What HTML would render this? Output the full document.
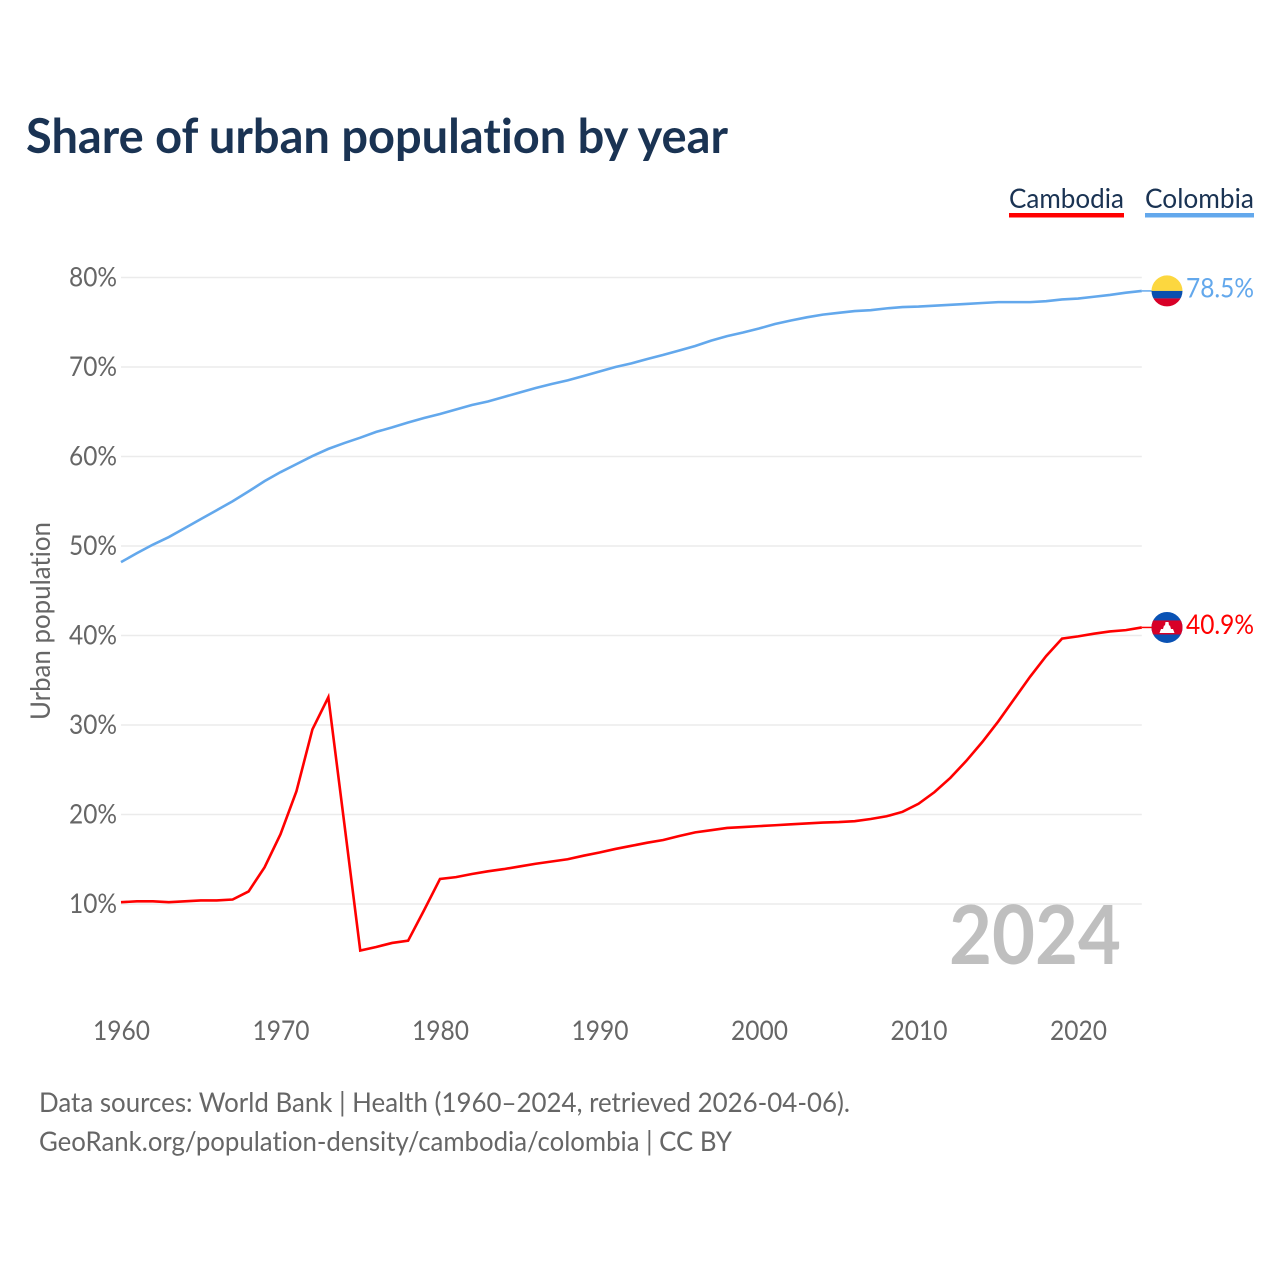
<!DOCTYPE html>
<html lang="en">
<head>
<meta charset="utf-8">
<title>Share of urban population by year</title>
<style>
html,body{margin:0;padding:0;background:#fff;}
svg{display:block;}
text{font-family:"Lato","Carlito","Liberation Sans",sans-serif;font-variant-ligatures:none;font-feature-settings:"liga" 0,"clig" 0;}
</style>
</head>
<body>
<svg id="chart" xmlns="http://www.w3.org/2000/svg" width="1280" height="1280" viewBox="0 0 1280 1280">
  <rect x="0" y="0" width="1280" height="1280" fill="#ffffff"/>
  <text x="26" y="153" font-size="47.5" font-weight="700" fill="#1a3353" textLength="702" lengthAdjust="spacingAndGlyphs">Share of urban population by year</text>

  <g>
    <g>
      <text x="1009" y="208" font-size="27.5" fill="#1a3353" textLength="115" lengthAdjust="spacingAndGlyphs">Cambodia</text>
      <rect x="1009" y="213" width="115" height="4.5" fill="#ff0000"/>
    </g>
    <g>
      <text x="1145" y="208" font-size="27.5" fill="#1a3353" textLength="109" lengthAdjust="spacingAndGlyphs">Colombia</text>
      <rect x="1145" y="213" width="109" height="4.5" fill="#63a8ec"/>
    </g>
  </g>

  <g id="grid"></g>
  <g id="y-ticks"></g>
  <g id="x-ticks"></g>

  <text transform="translate(50,621) rotate(-90)" text-anchor="middle" font-size="27" fill="#666666" textLength="198" lengthAdjust="spacingAndGlyphs">Urban population</text>

  <text x="949" y="964" font-size="81" font-weight="700" fill="#bfbfbf" textLength="172" lengthAdjust="spacingAndGlyphs">2024</text>

  <g id="series"></g>

  <defs>
    <clipPath id="flag-clip"><circle cx="0" cy="0" r="15.5"/></clipPath>
  </defs>
  <g id="flag-colombia">
    <g clip-path="url(#flag-clip)">
      <rect x="-16" y="-16" width="32" height="16" fill="#fcd73f"/>
      <rect x="-16" y="0" width="32" height="7.5" fill="#0a4fae"/>
      <rect x="-16" y="7.5" width="32" height="8.5" fill="#d80027"/>
    </g>
  </g>
  <g id="flag-cambodia">
    <g clip-path="url(#flag-clip)">
      <rect x="-16" y="-16" width="32" height="32" fill="#0a52b4"/>
      <rect x="-16" y="-7" width="32" height="14" fill="#d80027"/>
      <polygon points="-7.5,5.5 7.5,5.5 6,1.5 4,1.5 3,-2 2,-2 1.5,-5.5 -1.5,-5.5 -2,-2 -3,-2 -4,1.5 -6,1.5" fill="#ffffff"/>
    </g>
  </g>
  <text id="label-colombia" x="1254" text-anchor="end" font-size="27.5" fill="#63a8ec" textLength="68" lengthAdjust="spacingAndGlyphs"></text>
  <text id="label-cambodia" x="1254" text-anchor="end" font-size="27.5" fill="#ff0000" textLength="68" lengthAdjust="spacingAndGlyphs"></text>

  <g>
    <text x="39" y="1112" font-size="27.5" fill="#666666" textLength="811" lengthAdjust="spacingAndGlyphs">Data sources: World Bank | Health (1960–2024, retrieved 2026-04-06).</text>
    <text x="39" y="1151" font-size="27.5" fill="#666666" textLength="693" lengthAdjust="spacingAndGlyphs">GeoRank.org/population-density/cambodia/colombia | CC BY</text>
  </g>
</svg>
<script>
const startYear = 1960;
const xTickYears = [1960, 1970, 1980, 1990, 2000, 2010, 2020];
const yTickValues = [10, 20, 30, 40, 50, 60, 70, 80];
const cambodiaValues = [
  10.2, 10.3, 10.3, 10.2, 10.3, 10.4, 10.4, 10.5, 11.4, 14.1,
  17.8, 22.6, 29.5, 33.1, 19.0, 4.8, 5.2, 5.65, 5.9, 9.3,
  12.8, 13.0, 13.35, 13.65, 13.9, 14.2, 14.5, 14.75, 15.0, 15.4,
  15.75, 16.15, 16.5, 16.85, 17.15, 17.6, 18.0, 18.25, 18.5, 18.6,
  18.7, 18.8, 18.9, 19.0, 19.1, 19.15, 19.25, 19.5, 19.8, 20.3,
  21.2, 22.5, 24.1, 26.0, 28.1, 30.4, 32.9, 35.4, 37.7, 39.65,
  39.9, 40.2, 40.45, 40.6, 40.9
];
const colombiaValues = [
  48.2, 49.2, 50.15, 51.0, 52.0, 53.0, 54.0, 55.0, 56.1, 57.25,
  58.25, 59.15, 60.05, 60.85, 61.5, 62.1, 62.75, 63.25, 63.8, 64.3,
  64.75, 65.25, 65.75, 66.15, 66.65, 67.15, 67.65, 68.1, 68.5, 69.0,
  69.5, 70.0, 70.4, 70.9, 71.35, 71.85, 72.35, 72.95, 73.45, 73.85,
  74.3, 74.8, 75.2, 75.55, 75.85, 76.05, 76.25, 76.35, 76.55, 76.7,
  76.75, 76.85, 76.95, 77.05, 77.15, 77.25, 77.25, 77.25, 77.35, 77.55,
  77.65, 77.85, 78.05, 78.3, 78.5
];

const NS = 'http://www.w3.org/2000/svg';
function xScale(year) { return 121 + (year - 1960) * 15.95; }
function yScale(value) { return 904 - (value - 10) * 8.95; }
function make(tag, attrs, parent) {
  const el = document.createElementNS(NS, tag);
  Object.keys(attrs).forEach(function (k) { el.setAttribute(k, attrs[k]); });
  parent.appendChild(el);
  return el;
}

const gridGroup = document.getElementById('grid');
const yGroup = document.getElementById('y-ticks');
const xGroup = document.getElementById('x-ticks');
const seriesGroup = document.getElementById('series');
const lastYear = startYear + cambodiaValues.length - 1;

yTickValues.forEach(function (v) {
  const line = make('line', { x1: xScale(startYear), x2: xScale(lastYear), y1: yScale(v), y2: yScale(v), stroke: '#ebebeb', 'stroke-width': 1.5 }, gridGroup);
  
  
  const label = make('text', { x: 117, y: yScale(v) + 9, 'text-anchor': 'end', 'font-size': 27, fill: '#666666', textLength: 48, lengthAdjust: 'spacingAndGlyphs' }, yGroup);
  label.textContent = v + '%';
  
  
});

xTickYears.forEach(function (yr) {
  const label = make('text', { x: xScale(yr) + 0.5, y: 1040, 'text-anchor': 'middle', 'font-size': 27.5, fill: '#666666', textLength: 57, lengthAdjust: 'spacingAndGlyphs' }, xGroup);
  label.textContent = String(yr);
  
  
});

function drawSeries(values, color, key) {
  const pts = values.map(function (v, i) { return xScale(startYear + i) + ',' + yScale(v); }).join(' ');
  const line = make('polyline', { points: pts, fill: 'none', stroke: color, 'stroke-width': 2.6, 'stroke-linejoin': 'miter' }, seriesGroup);
  
  
  const last = values[values.length - 1];
  const endY = yScale(last);
  const leader = make('line', { x1: xScale(lastYear), x2: 1153, y1: endY, y2: endY, stroke: color, 'stroke-width': 1.5 }, seriesGroup);
  
  
  document.getElementById('flag-' + key).setAttribute('transform', 'translate(1167,' + endY + ')');
  const label = document.getElementById('label-' + key);
  label.setAttribute('y', endY + 6.5);
  label.textContent = last.toFixed(1) + '%';
}

drawSeries(cambodiaValues, '#ff0000', 'cambodia');
drawSeries(colombiaValues, '#63a8ec', 'colombia');
</script>
</body>
</html>
